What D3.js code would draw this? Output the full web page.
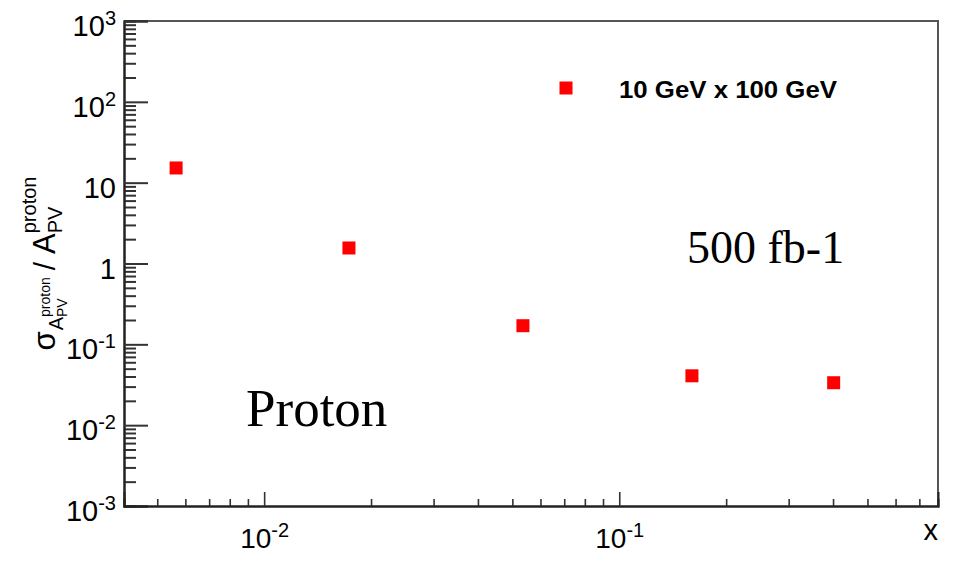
<!DOCTYPE html>
<html>
<head>
<meta charset="utf-8">
<script src="https://cdn.jsdelivr.net/npm/d3@7"></script>
<style>
  html, body { margin: 0; padding: 0; background: #fff; }
  svg { display: block; }
</style>
</head>
<body>
<svg id="chart" width="961" height="562"></svg>
<script>
// Momentum fraction x of each bin
const xValues = [0.00565, 0.01733, 0.05355, 0.1602, 0.4016];
// Relative uncertainty sigma(A_PV)/A_PV for the proton, 10 GeV x 100 GeV, 500 fb-1
const relErr = [15.2, 1.556, 0.170, 0.0408, 0.0335];
// Axis ranges and labelled decades
const xDomain = [0.00403, 0.79];
const yDomain = [1e-3, 1e3];
const xMajorExp = [-2, -1];
const yMajorExp = [-3, -2, -1, 0, 1, 2, 3];
const legendLabel = "10 GeV x 100 GeV";

const svg = d3.select("#chart");
const frame = { left: 124, right: 938, top: 21, bottom: 506 };

const x = d3.scaleLog().domain(xDomain).range([frame.left, frame.right]);
const y = d3.scaleLog().domain(yDomain).range([frame.bottom, frame.top]);

// minor tick values: 2..9 times each decade, inside the domain
function minorTicks(domain) {
  const out = [];
  const lo = Math.floor(Math.log10(domain[0])), hi = Math.ceil(Math.log10(domain[1]));
  for (let e = lo; e <= hi; e++) {
    for (let m = 2; m <= 9; m++) {
      const v = m * Math.pow(10, e);
      if (v >= domain[0] * 0.9999 && v <= domain[1] * 1.0001) out.push(v);
    }
  }
  return out;
}

// frame: top and right edges
svg.append("path")
  .attr("d", `M${frame.left},${frame.top}H${frame.right}V${frame.bottom}`)
  .attr("fill", "none").attr("stroke", "#555").attr("stroke-width", 2);

// power-of-ten labels
function powLabel(sel, e, supSize, supRise) {
  sel.text(null);
  if (e === 0) { sel.append("tspan").text("1"); return; }
  if (e === 1) { sel.append("tspan").text("10"); return; }
  sel.append("tspan").text("10");
  sel.append("tspan").attr("font-size", supSize).attr("dy", -supRise).text(e < 0 ? "-" + (-e) : String(e));
}

// Y axis
const yMinor = d3.axisLeft(y).tickValues(minorTicks(yDomain)).tickSize(-12).tickFormat("");
const yMajor = d3.axisLeft(y).tickValues(yMajorExp.map(e => Math.pow(10, e))).tickSize(-24).tickPadding(8);
const gyMin = svg.append("g").attr("transform", `translate(${frame.left},0)`).call(yMinor);
const gy = svg.append("g").attr("transform", `translate(${frame.left},0)`).call(yMajor);
[gyMin, gy].forEach(g => {
  g.select(".domain").attr("stroke", "#222").attr("stroke-width", 2);
  g.selectAll(".tick line").attr("stroke", "#333").attr("stroke-width", 2);
});
gy.selectAll(".tick text")
  .attr("font-family", "Liberation Sans, Arial, sans-serif")
  .attr("font-size", 29).attr("fill", "#000")
  .attr("dy", 14.5)
  .each(function(d) { powLabel(d3.select(this), Math.round(Math.log10(d)), 20, 11); });

// X axis
const xMinor = d3.axisBottom(x).tickValues(minorTicks(xDomain)).tickSize(-7).tickFormat("");
const xMajor = d3.axisBottom(x).tickValues(xMajorExp.map(e => Math.pow(10, e))).tickSize(-14).tickPadding(0);
const gxMin = svg.append("g").attr("transform", `translate(0,${frame.bottom})`).call(xMinor);
const gx = svg.append("g").attr("transform", `translate(0,${frame.bottom})`).call(xMajor);
[gxMin, gx].forEach(g => {
  g.select(".domain").attr("stroke", "#222").attr("stroke-width", 2);
  g.selectAll(".tick line").attr("stroke", "#333").attr("stroke-width", 1.6);
});
gx.selectAll(".tick text")
  .attr("font-family", "Liberation Sans, Arial, sans-serif")
  .attr("font-size", 28).attr("fill", "#000")
  .attr("y", 42).attr("dy", 0)
  .each(function(d) { powLabel(d3.select(this), Math.round(Math.log10(d)), 20, 11); });

// X axis title
svg.append("text")
  .attr("x", frame.right).attr("y", 540).attr("text-anchor", "end")
  .attr("font-family", "Liberation Sans, Arial, sans-serif").attr("font-size", 29)
  .text("x");

// Y axis title: sigma_{A_PV^proton} / A_PV^proton, written bottom to top
(function yTitle() {
  const g = svg.append("g");
  const font = "Liberation Sans, Arial, sans-serif";
  let pos = 0;
  function piece(t, size, shift, advance = true) {
    const el = g.append("text").attr("x", pos).attr("y", shift)
      .attr("font-family", font).attr("font-size", size).text(t);
    const w = el.node().getComputedTextLength();
    if (advance) pos += w;
    return w;
  }
  function stack(subT, supT, size, subShift, supShift) {
    const start = pos;
    const w1 = piece(subT, size, subShift, false);
    const w2 = piece(supT, size, supShift, false);
    pos = start + Math.max(w1, w2);
  }
  piece("σ", 31, 0);
  pos += 1;
  piece("A", 20, 8);
  stack("PV", "proton", 14, 12, -5);
  pos += 7;
  piece("/", 30, 0);
  pos += 8;
  piece("A", 31, 0);
  stack("PV", "proton", 20, 7, -19);
  const total = pos;
  const cy = (frame.top + frame.bottom) / 2;
  g.attr("transform", `translate(55,${cy + total / 2}) rotate(-90)`);
})();

// data markers
const size = 13;
svg.append("g").selectAll("rect").data(xValues.map((v, i) => [v, relErr[i]])).join("rect")
  .attr("x", d => x(d[0]) - size / 2)
  .attr("y", d => y(d[1]) - size / 2)
  .attr("width", size).attr("height", size)
  .attr("fill", "#ff0000");

// legend
svg.append("rect").attr("x", 566 - size / 2).attr("y", 88 - size / 2)
  .attr("width", size).attr("height", size).attr("fill", "#ff0000");
svg.append("text").attr("x", 619).attr("y", 98)
  .attr("font-family", "Liberation Sans, Arial, sans-serif").attr("font-weight", "bold")
  .attr("font-size", 23.5).attr("textLength", 218).attr("lengthAdjust", "spacingAndGlyphs")
  .text(legendLabel);

// annotations
svg.append("text").attr("x", 687).attr("y", 263)
  .attr("font-family", "Liberation Serif, Times New Roman, serif").attr("font-size", 46)
  .text("500 fb-1");
svg.append("text").attr("x", 246).attr("y", 426)
  .attr("font-family", "Liberation Serif, Times New Roman, serif").attr("font-size", 53)
  .text("Proton");
</script>
</body>
</html>
